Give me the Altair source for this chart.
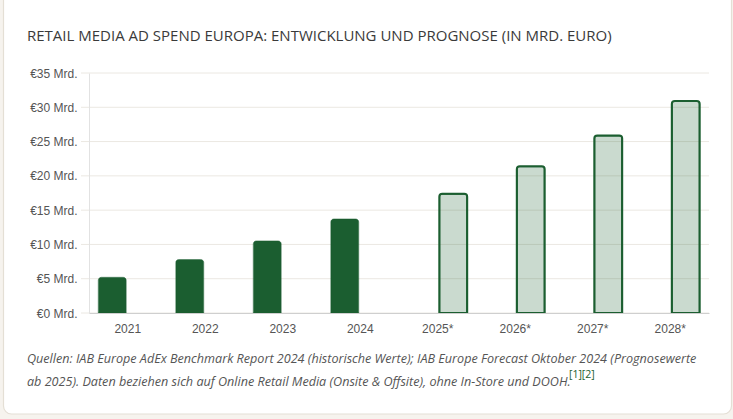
import altair as alt
import pandas as pd

# Retail media ad spend in Europe, billions of euros
years = ["2021", "2022", "2023", "2024", "2025*", "2026*", "2027*", "2028*"]
values = [5.2, 7.8, 10.5, 13.7, 17.4, 21.4, 25.9, 30.9]
series = ["Historisch"] * 4 + ["Prognose"] * 4
y_ticks = [0, 5, 10, 15, 20, 25, 30, 35]

title_text = "RETAIL MEDIA AD SPEND EUROPA: ENTWICKLUNG UND PROGNOSE (IN MRD. EURO)"
note_line1 = ("Quellen: IAB Europe AdEx Benchmark Report 2024 (historische Werte); "
              "IAB Europe Forecast Oktober 2024 (Prognosewerte")
note_line2 = ("ab 2025). Daten beziehen sich auf Online Retail Media (Onsite & Offsite), "
              "ohne In-Store und DOOH.")
note_refs = "[1][2]"

GREEN = "#1b5e30"
GRID = "#ebe8e2"

W, H = 620, 240

df = pd.DataFrame({"Jahr": years, "Wert": values, "Reihe": series})
grid_df = pd.DataFrame({"Wert": y_ticks})
one = pd.DataFrame({"k": [0]})

x_enc = alt.X(
    "Jahr:N",
    sort=years,
    scale=alt.Scale(domain=years, paddingInner=0.2, paddingOuter=0.1),
    axis=alt.Axis(
        title=None, labelAngle=0, ticks=False, labelPadding=10,
        labelFont="Liberation Sans", labelFontSize=12, labelColor="#555555",
        domainColor="#cfcfcf", domainWidth=1, grid=False, zindex=1,
    ),
)
xoff_enc = alt.XOffset(
    "Reihe:N",
    scale=alt.Scale(domain=["Historisch", "Prognose"], paddingInner=0.1, paddingOuter=0.05),
)
y_scale = alt.Scale(domain=[0, 35], nice=False)
y_axis = alt.Axis(
    title=None, values=y_ticks, labelExpr="'€' + datum.value + ' Mrd.'",
    ticks=False, labelPadding=12, grid=False,
    labelFont="Liberation Sans", labelFontSize=12, labelColor="#555555",
    domainColor="#e2e2e2", domainWidth=1, zindex=1,
)
y_enc = alt.Y("Wert:Q", scale=y_scale, axis=y_axis)

# white card behind everything
card = alt.Chart(one).mark_rect(
    fill="white", stroke="#e4dfd5", strokeWidth=1.2, cornerRadius=8
).encode(
    x=alt.value(-85.5), x2=alt.value(642.5),
    y=alt.value(-90), y2=alt.value(341),
)

# horizontal grid lines, extended slightly left of the axis like ticks
grid = alt.Chart(grid_df).mark_rule(color=GRID, strokeWidth=1).encode(
    y=y_enc,
    x=alt.value(-8), x2=alt.value(W),
)

hist = alt.Chart(df).transform_filter(alt.datum.Reihe == "Historisch").mark_bar(
    color=GREEN, cornerRadiusTopLeft=3, cornerRadiusTopRight=3,
    stroke=GREEN, strokeOpacity=0.6, strokeWidth=1,
).encode(x=x_enc, xOffset=xoff_enc, y=y_enc)

fc = alt.Chart(df).transform_filter(alt.datum.Reihe == "Prognose").mark_bar(
    fill=GREEN, fillOpacity=0.23, stroke=GREEN, strokeWidth=2,
    cornerRadiusTopLeft=3, cornerRadiusTopRight=3,
).encode(x=x_enc, xOffset=xoff_enc, y=y_enc)


def label(text, x, y, **kw):
    return alt.Chart(one).mark_text(align="left", baseline="alphabetic", **kw).encode(
        x=alt.value(x), y=alt.value(y), text=alt.value(text)
    )


title = label(title_text, -62, -32, font="Open Sans", fontSize=15, color="#3a3a3a")
n1 = label(note_line1, -62, 290, font="Open Sans", fontSize=12.6, fontStyle="italic", color="#555555")
n2 = label(note_line2, -62, 313, font="Open Sans", fontSize=12.6, fontStyle="italic", color="#555555")
n3 = label(note_refs, 480, 305, font="Open Sans", fontSize=10.5, color=GREEN)

chart = alt.layer(card, grid, hist, fc, title, n1, n2, n3).properties(
    width=W, height=H,
    autosize=alt.AutoSizeParams(type="none"),
    padding={"left": 89, "top": 73, "right": 24, "bottom": 106},
    background="#f6f3ee",
).configure_view(stroke=None)

chart.save("out.html", embed_options={"renderer": "svg", "actions": False})
